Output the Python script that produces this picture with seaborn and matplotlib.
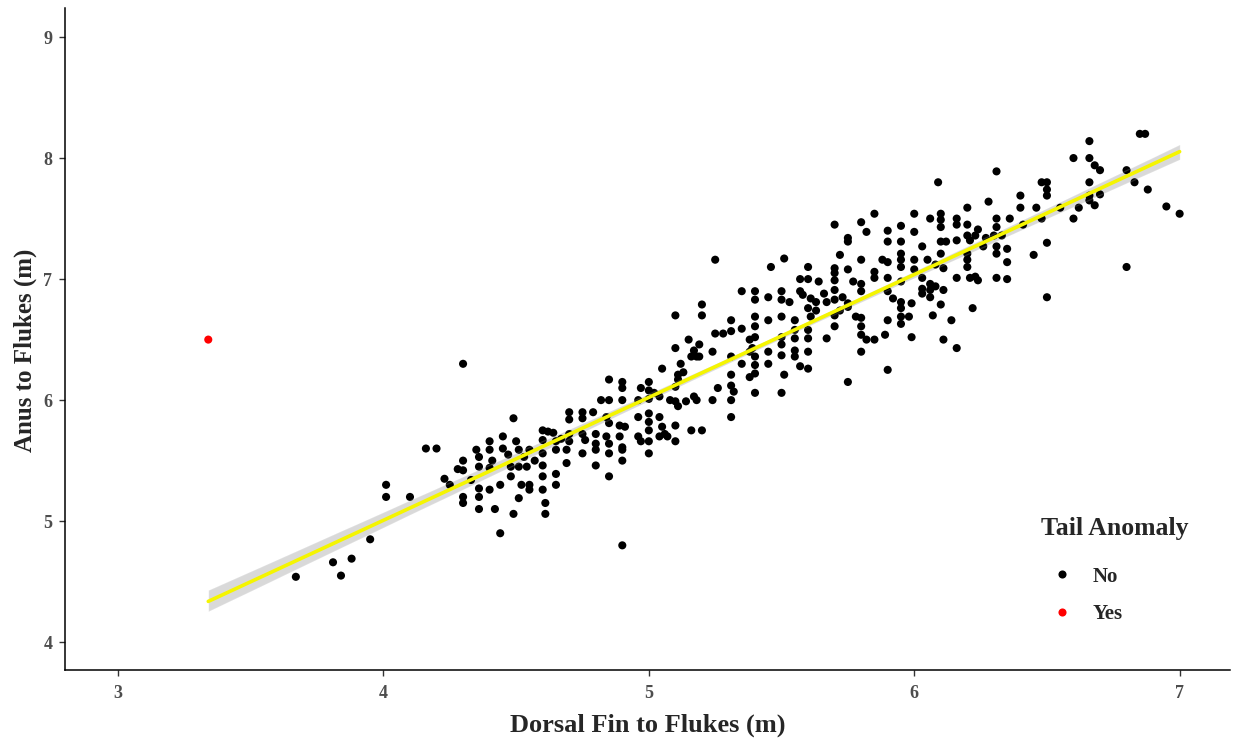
import pandas as pd
import matplotlib.pyplot as plt
import seaborn as sns

# (dorsal fin to flukes, anus to flukes) in metres
no_small = [(3.67, 4.54), (3.81, 4.66), (3.84, 4.55), (3.88, 4.69), (3.95, 4.85),
            (4.01, 5.20), (4.01, 5.30), (4.10, 5.20), (4.16, 5.60), (4.20, 5.60),
            (4.23, 5.35), (4.25, 5.30), (4.30, 6.30)]

no_low = [(4.49, 5.85), (4.28, 5.43), (4.30, 5.50), (4.30, 5.42), (4.30, 5.20),
          (4.30, 5.15), (4.33, 5.34), (4.35, 5.59), (4.36, 5.53), (4.36, 5.45),
          (4.36, 5.27), (4.36, 5.20), (4.36, 5.10), (4.40, 5.66), (4.40, 5.59),
          (4.41, 5.50), (4.40, 5.44), (4.40, 5.26), (4.42, 5.10), (4.44, 5.30),
          (4.44, 4.90), (4.45, 5.70), (4.45, 5.60), (4.47, 5.55), (4.48, 5.45),
          (4.48, 5.37), (4.49, 5.06), (4.50, 5.66), (4.51, 5.59), (4.51, 5.45),
          (4.51, 5.19), (4.53, 5.53), (4.54, 5.45), (4.52, 5.30), (4.55, 5.30),
          (4.55, 5.26), (4.55, 5.59), (4.57, 5.50), (4.60, 5.75), (4.62, 5.74),
          (4.64, 5.73), (4.60, 5.67), (4.60, 5.56), (4.60, 5.46), (4.60, 5.37),
          (4.60, 5.26), (4.61, 5.15), (4.61, 5.06), (4.65, 5.66), (4.65, 5.59),
          (4.65, 5.39), (4.65, 5.30), (4.90, 4.80)]

no_mid = [(5.10, 6.70), (5.15, 6.50), (5.10, 6.43), (5.17, 6.41), (5.16, 6.36),
          (5.18, 6.36), (5.05, 6.26), (5.12, 6.30), (5.13, 6.23), (5.11, 6.21),
          (5.11, 6.17), (5.10, 6.11), (4.85, 6.17), (4.90, 6.15), (4.90, 6.10),
          (4.97, 6.10), (5.00, 6.15), (5.00, 6.08), (5.02, 6.06), (4.82, 6.00),
          (4.85, 6.00), (4.90, 6.00), (4.96, 6.00), (5.00, 6.01), (5.04, 6.03),
          (5.08, 6.00), (5.10, 5.99), (5.11, 5.95), (5.14, 5.99), (5.17, 6.03),
          (5.18, 6.00), (4.70, 5.90), (4.75, 5.90), (4.70, 5.84), (4.75, 5.85),
          (4.79, 5.90), (4.84, 5.86), (4.85, 5.81), (4.89, 5.79), (4.91, 5.78),
          (4.96, 5.86), (5.00, 5.89), (5.00, 5.82), (5.00, 5.75), (5.04, 5.86),
          (5.05, 5.78), (5.06, 5.72), (5.10, 5.79), (5.16, 5.75), (4.67, 5.68),
          (4.70, 5.72), (4.70, 5.66), (4.75, 5.72), (4.76, 5.67), (4.80, 5.72),
          (4.80, 5.64), (4.84, 5.70), (4.85, 5.64), (4.89, 5.70), (4.90, 5.61),
          (4.96, 5.70), (4.97, 5.66), (5.00, 5.66), (5.04, 5.70), (5.07, 5.70),
          (5.10, 5.66), (4.69, 5.59), (4.69, 5.48), (4.75, 5.56), (4.80, 5.59),
          (4.85, 5.56), (4.90, 5.59), (4.90, 5.50), (5.00, 5.56), (4.80, 5.46),
          (4.85, 5.37), (5.20, 5.75), (5.31, 5.86)]

no_upper = [(5.70, 7.45), (5.75, 7.34), (5.75, 7.31), (5.25, 7.16), (5.46, 7.10),
            (5.51, 7.17), (5.60, 7.10), (5.72, 7.20), (5.70, 7.09), (5.75, 7.08),
            (5.57, 7.00), (5.60, 7.00), (5.64, 6.98), (5.70, 7.05), (5.70, 6.99),
            (5.77, 6.98), (5.35, 6.90), (5.40, 6.90), (5.40, 6.83), (5.45, 6.85),
            (5.50, 6.90), (5.50, 6.83), (5.53, 6.81), (5.57, 6.90), (5.58, 6.87),
            (5.61, 6.84), (5.63, 6.81), (5.66, 6.88), (5.67, 6.81), (5.60, 6.76),
            (5.63, 6.74), (5.70, 6.91), (5.70, 6.83), (5.73, 6.85), (5.75, 6.80),
            (5.72, 6.74), (5.75, 6.77), (5.40, 6.69), (5.45, 6.66), (5.50, 6.69),
            (5.55, 6.66), (5.61, 6.69), (5.70, 6.70), (5.78, 6.69), (5.20, 6.79),
            (5.20, 6.70), (5.31, 6.66), (5.25, 6.55), (5.28, 6.55), (5.31, 6.57),
            (5.35, 6.59), (5.40, 6.61), (5.40, 6.52), (5.38, 6.50), (5.39, 6.43),
            (5.40, 6.36), (5.50, 6.52), (5.50, 6.46), (5.55, 6.58), (5.55, 6.51),
            (5.60, 6.58), (5.60, 6.51), (5.67, 6.51), (5.70, 6.61), (5.19, 6.46),
            (5.19, 6.36), (5.24, 6.40), (5.31, 6.36), (5.35, 6.30), (5.38, 6.40),
            (5.40, 6.29), (5.40, 6.22), (5.45, 6.40), (5.45, 6.30), (5.50, 6.37),
            (5.55, 6.41), (5.55, 6.36), (5.57, 6.28), (5.60, 6.40), (5.60, 6.26),
            (5.51, 6.21), (5.38, 6.19), (5.31, 6.21), (5.31, 6.12), (5.26, 6.10),
            (5.32, 6.07), (5.40, 6.06), (5.50, 6.06), (5.31, 6.00), (5.24, 6.00),
            (5.75, 6.15)]

no_high = [(6.09, 7.80), (6.31, 7.89), (6.28, 7.64), (6.20, 7.59), (5.85, 7.54),
           (5.80, 7.47), (6.00, 7.54), (6.06, 7.50), (6.10, 7.54), (6.10, 7.49),
           (6.10, 7.43), (6.16, 7.50), (6.16, 7.45), (6.20, 7.45), (6.24, 7.41),
           (6.31, 7.50), (6.31, 7.43), (5.82, 7.39), (5.90, 7.40), (5.95, 7.44),
           (6.00, 7.39), (5.90, 7.31), (5.95, 7.31), (6.03, 7.27), (6.10, 7.31),
           (6.12, 7.31), (6.16, 7.32), (6.20, 7.36), (6.21, 7.32), (6.23, 7.36),
           (6.27, 7.34), (6.30, 7.36), (6.26, 7.27), (6.31, 7.27), (6.31, 7.21),
           (5.80, 7.16), (5.88, 7.16), (5.90, 7.14), (5.95, 7.21), (5.95, 7.16),
           (5.95, 7.10), (6.00, 7.16), (6.05, 7.16), (6.10, 7.21), (6.08, 7.12),
           (6.11, 7.09), (6.20, 7.21), (6.20, 7.16), (6.20, 7.10), (5.85, 7.06),
           (5.85, 7.01), (5.80, 6.96), (5.80, 6.90), (5.90, 7.01), (5.95, 6.98),
           (6.00, 7.08), (6.03, 7.01), (6.06, 6.96), (6.06, 6.91), (6.08, 6.94),
           (6.03, 6.92), (6.03, 6.88), (6.06, 6.85), (6.11, 6.91), (6.16, 7.01),
           (6.21, 7.01), (6.23, 7.02), (6.24, 6.99), (6.31, 7.01), (5.90, 6.90),
           (5.92, 6.84), (5.95, 6.81), (5.95, 6.76), (5.95, 6.69), (5.95, 6.63),
           (5.99, 6.80), (5.98, 6.69), (5.90, 6.66), (6.10, 6.79), (6.07, 6.70),
           (6.14, 6.66), (6.22, 6.76), (5.80, 6.68), (5.80, 6.61), (5.80, 6.54),
           (5.82, 6.50), (5.85, 6.50), (5.89, 6.54), (5.99, 6.52), (6.11, 6.50),
           (6.16, 6.43), (5.80, 6.40), (5.90, 6.25)]

no_top = [(6.66, 8.14), (6.60, 8.00), (6.66, 8.00), (6.68, 7.94), (6.70, 7.90),
          (6.80, 7.90), (6.83, 7.80), (6.88, 7.74), (6.85, 8.20), (6.87, 8.20),
          (6.95, 7.60), (7.00, 7.54), (6.48, 7.80), (6.50, 7.80), (6.50, 7.74),
          (6.50, 7.69), (6.40, 7.69), (6.40, 7.59), (6.46, 7.59), (6.55, 7.59),
          (6.62, 7.59), (6.60, 7.50), (6.66, 7.80), (6.66, 7.69), (6.66, 7.65),
          (6.68, 7.61), (6.70, 7.70), (6.36, 7.50), (6.41, 7.45), (6.48, 7.50),
          (6.33, 7.36), (6.35, 7.25), (6.35, 7.14), (6.35, 7.00), (6.45, 7.20),
          (6.50, 7.30), (6.50, 6.85), (6.80, 7.10)]

yes_pts = [(3.34, 6.50)]

no_all = no_small + no_low + no_mid + no_upper + no_high + no_top
df_no = pd.DataFrame(no_all, columns=["dorsal", "anus"])
df_no["Tail Anomaly"] = "No"
df_yes = pd.DataFrame(yes_pts, columns=["dorsal", "anus"])
df_yes["Tail Anomaly"] = "Yes"
df = pd.concat([df_no, df_yes], ignore_index=True)

sns.set_theme(style="ticks")
plt.rcParams["font.family"] = ["Liberation Serif", "DejaVu Serif"]

fig = plt.figure(figsize=(12.35, 7.4), dpi=100)
ax = fig.add_axes([0.0526, 0.0946, 0.9434, 0.8946])

sns.scatterplot(data=df, x="dorsal", y="anus", hue="Tail Anomaly",
                palette={"No": "black", "Yes": "red"}, s=34, linewidth=0, ax=ax)

# grey confidence band, then the yellow fit line on top
sns.regplot(data=df, x="dorsal", y="anus", scatter=False, ci=80, color="black",
            line_kws={"lw": 0}, ax=ax)
sns.regplot(data=df, x="dorsal", y="anus", scatter=False, ci=None,
            color="#f5f500", line_kws={"lw": 2.6}, ax=ax)

ax.set_xlim(2.8, 7.19)
ax.set_ylim(3.77, 9.24)
ax.set_xticks([3, 4, 5, 6, 7])
ax.set_yticks([4, 5, 6, 7, 8, 9])

ax.set_xlabel("Dorsal Fin to Flukes (m)", fontsize=19, fontweight="bold", labelpad=8)
ax.set_ylabel("Anus to Flukes (m)", fontsize=18, fontweight="bold", labelpad=5, y=0.483)

ax.tick_params(axis="both", direction="out", length=4, width=1, color="#333333",
               labelsize=13, labelcolor="#4d4d4d")
ax.tick_params(axis="x", pad=7)
ax.tick_params(axis="y", pad=5)
for lab in ax.get_xticklabels() + ax.get_yticklabels():
    lab.set_fontweight("bold")

sns.despine(ax=ax)
for side in ["left", "bottom"]:
    ax.spines[side].set_color("black")
    ax.spines[side].set_linewidth(1.1)

handles, labels = ax.get_legend_handles_labels()
leg = ax.legend(handles, labels, title="Tail Anomaly", frameon=False,
                loc="lower left", bbox_to_anchor=(0.825, 0.047),
                prop={"weight": "bold", "size": 15},
                title_fontproperties={"weight": "bold", "size": 18.5},
                alignment="left", labelspacing=0.85, handletextpad=0.5,
                markerscale=1.0, borderpad=0.2)
# a bit more room between the legend title and its entries
leg._legend_box.sep = 19

plt.savefig("out.png", dpi=100)
plt.close()
